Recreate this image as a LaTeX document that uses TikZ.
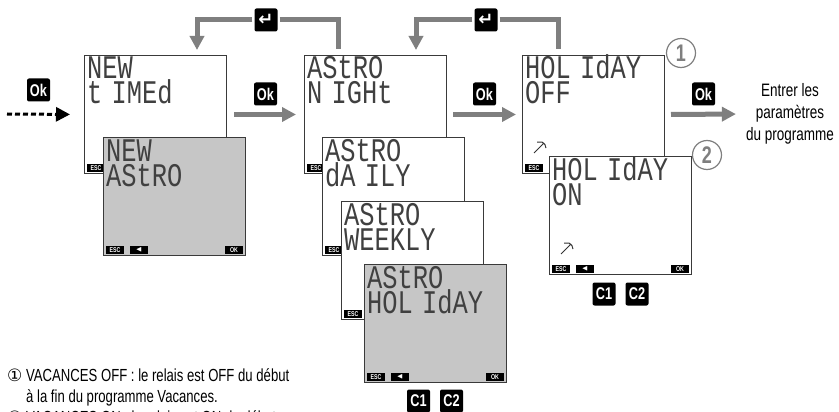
\documentclass[tikz,border=0pt]{standalone}
\usepackage{amssymb}
\usepackage{fontspec}
\usepackage{xcolor}
\usetikzlibrary{calc,arrows.meta,positioning}
\setmainfont{Liberation Sans}[FakeStretch=0.75]
\newfontfamily\lcdfont{Liberation Mono}[FakeStretch=0.77]
\newfontfamily\symfont{DejaVu Sans}
\definecolor{flowgray}{HTML}{7F7F7F}
\definecolor{lcdgray}{HTML}{C6C6C6}
\definecolor{framex}{HTML}{3A3A3A}
\tikzset{
  flow/.style={-{Triangle[length=14pt,width=14pt]},line width=5pt,flowgray},
  plainflow/.style={line width=5pt,flowgray},
  screen/.style={draw=framex,line width=1pt,fill=white,minimum width=142pt,minimum height=118pt,inner sep=0pt,anchor=north west},
  lcdtext/.style={font=\lcdfont\fontsize{33}{33}\selectfont,inner sep=0pt,anchor=base west,text=black!75},
  keycap/.style={fill=black,rounded corners=2pt,minimum width=23pt,minimum height=23pt,inner sep=0pt,text=white,font=\bfseries\fontsize{17}{17}\selectfont},
  softkey/.style={fill=black,minimum width=18pt,minimum height=8pt,inner sep=0pt,text=white,font=\bfseries\fontsize{7}{7}\selectfont},
  callout/.style={circle,draw=flowgray,line width=1.2pt,fill=white,minimum size=29pt,inner sep=0pt,text=flowgray,font=\bfseries\fontsize{24}{24}\selectfont},
  note/.style={inner sep=0pt,anchor=base west,font=\fontsize{17.5}{17.5}\selectfont},
  notemark/.style={inner sep=0pt,anchor=base west,font=\symfont\fontsize{17}{17}\selectfont}
}
\newcommand{\lcd}[6][]{%
  \node[screen,#1] (#2) at (#3,#4) {};
  \node[lcdtext] (#2-a) at ($(#2.north west)+(3,24)$) {#5};
  \node[lcdtext] (#2-b) at ($(#2.north west)+(3,49)$) {#6};
  \node[softkey] (#2-esc) at ($(#2.south west)+(12,-6)$) {ESC};}
\newcommand{\lcdkeys}[1]{%
  \node[softkey] (#1-left) at ($(#1.south west)+(36,-6)$) {$\blacktriangleleft$};
  \node[softkey] (#1-ok) at ($(#1.south east)+(-12,-6)$) {OK};}
\newcommand{\relaysign}[2]{%
  \draw[black!80,line width=1pt] (#1,#2+11)--(#1+10,#2+1) (#1+3,#2)--(#1+8,#2) to[bend left=30] (#1+12,#2+6);}
\newcommand{\narrow}{\kern-6pt{}}
\begin{document}
\begin{tikzpicture}[x=1pt,y=-1pt]
\clip (0,0) rectangle (839,412);
\lcd{newtimed}{84}{55}{NEW}{t\narrow{} IMEd}
\lcd[fill=lcdgray]{newastro}{103}{137}{NEW}{AStRO}
\lcdkeys{newastro}
\lcd{astronight}{304}{55}{AStRO}{N\narrow{} IGHt}
\lcd{astrodaily}{322}{137}{AStRO}{dA\narrow{} ILY}
\lcd{astroweekly}{341}{201}{AStRO}{WEEKLY}
\lcd[fill=lcdgray]{astroholiday}{364}{264}{AStRO}{HOL\narrow{} IdAY}
\lcdkeys{astroholiday}
\lcd{holidayoff}{522}{55}{HOL\narrow{} IdAY}{OFF}
\relaysign{534}{142}
\lcd{holidayon}{549}{156}{HOL\narrow{} IdAY}{ON}
\relaysign{561}{243}
\lcdkeys{holidayon}
% keys
\node[keycap] (okin) at (38.5,90) {Ok};
\node[keycap] (oka) at (265.5,94) {Ok};
\node[keycap] (okb) at (484.5,94) {Ok};
\node[keycap] (okc) at (703.5,94) {Ok};
\node[keycap,font=\symfont\bfseries\fontsize{18}{18}\selectfont] (enta) at (266,20) {↵};
\node[keycap,font=\symfont\bfseries\fontsize{18}{18}\selectfont] (entb) at (486,20) {↵};
\node[keycap] (cona) at (604,294) {C1};
\node[keycap] (conb) at (637,294) {C2};
\node[keycap] (conc) at (418.5,401) {C1};
\node[keycap] (cond) at (451.5,401) {C2};
% callouts
\node[callout] (oneoff) at (681,53) {1};
\node[callout] (twoon) at (707,155) {2};
% text
\node[align=center,font=\fontsize{18}{22}\selectfont,inner sep=0pt] (entry) at (790,114) {Entrer les\\paramètres\\du programme};
\node[note] (notea) at (26,381) {VACANCES OFF : le relais est OFF du début};
\node[note] (noteb) at (26,402) {à la fin du programme Vacances.};
\node[note] (notec) at (26,423) {VACANCES ON : le relais est ON du début};
\node[notemark] (marka) at (7,381) {①};
\node[notemark] (markb) at (7,423) {②};
% connectors
\coordinate (startin) at (7,114);
\coordinate (backa) at (197,50);
\coordinate (froma) at (338,49);
\coordinate (backb) at (416,50);
\coordinate (fromb) at (558,49);
\draw[-{Triangle[length=14pt,width=14pt]},line width=3pt,black,dash pattern=on 5pt off 3pt,shorten >=14pt] (startin)--(newtimed.west);
\draw[flow,shorten <=7pt,shorten >=8pt] (newtimed.east)--(astronight.west);
\draw[flow,shorten <=6pt,shorten >=6pt] (astronight.east)--(holidayoff.west);
\draw[flow,shorten <=6pt,shorten >=10pt] (holidayoff.east)--(entry.west);
\draw[flow,shorten <=2pt] (enta.west)-|(backa);
\draw[plainflow,shorten <=2pt] (enta.east)-|(froma);
\draw[flow,shorten <=2pt] (entb.west)-|(backb);
\draw[plainflow,shorten <=2pt] (entb.east)-|(fromb);
\end{tikzpicture}
\end{document}
